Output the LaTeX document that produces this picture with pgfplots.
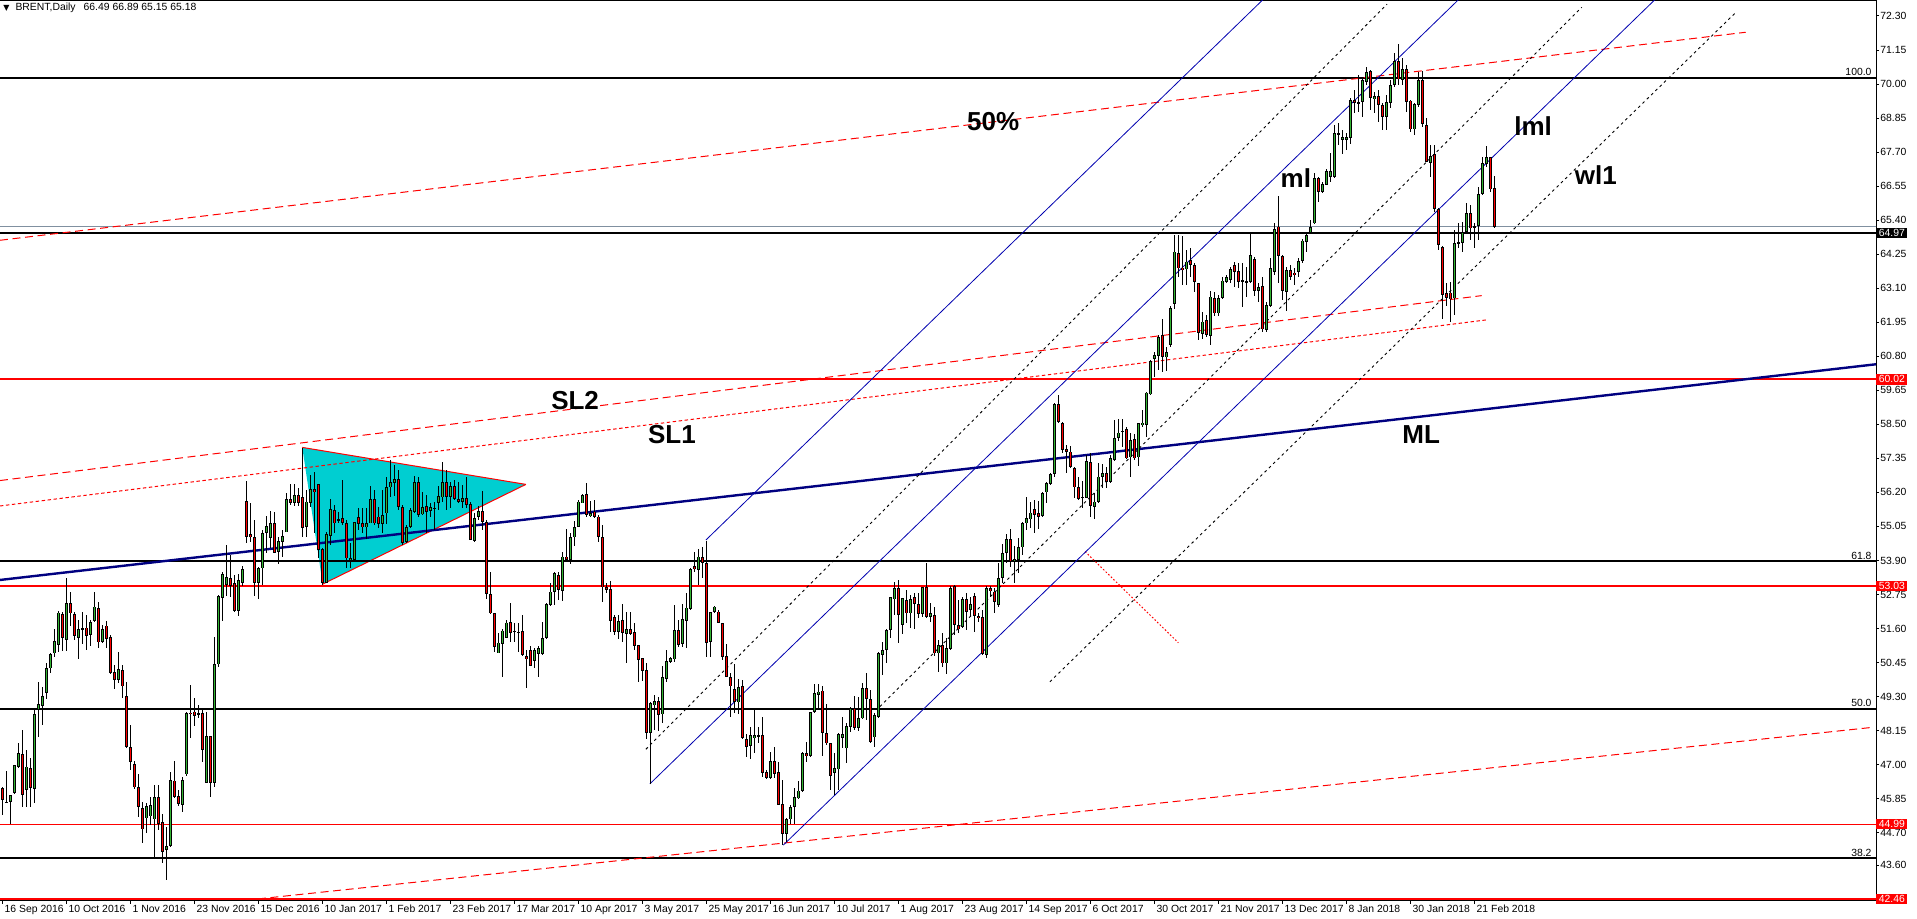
\documentclass[border=0pt]{standalone}
\usepackage{fontspec}
\setmainfont{Liberation Sans}
\newfontfamily\dejavu{DejaVu Sans}
\usepackage{pgfplots}
\usepackage{pgfplotstable}
\pgfplotsset{compat=1.18}
\definecolor{cgreen}{RGB}{50,180,50}
\definecolor{cred}{RGB}{255,0,0}
\definecolor{navyml}{RGB}{0,0,128}
\definecolor{pfblue}{RGB}{0,0,175}
\definecolor{turq}{RGB}{0,206,209}
\definecolor{bidgray}{RGB}{128,144,160}
\newcommand{\tickfont}{\fontsize{5.2}{6}\selectfont}
\newcommand{\bigfont}{\fontsize{13}{15}\selectfont\bfseries}

\pgfplotstableread{
x o h l c
0 46.20 46.25 45.30 45.80
1 45.72 46.78 45.69 45.72
2 45.75 45.97 44.98 45.97
3 46.05 47.00 46.00 46.99
4 46.93 47.74 46.88 47.38
5 47.35 48.17 45.58 45.98
6 46.14 47.49 45.58 46.93
7 46.88 47.21 45.58 46.20
8 46.17 48.85 45.69 48.70
9 48.85 49.80 47.95 49.04
10 48.98 49.63 48.34 49.32
11 49.43 50.42 49.21 50.25
12 50.25 50.76 50.09 50.73
13 50.76 51.57 50.65 51.18
14 51.06 52.20 50.80 52.14
15 52.09 52.17 50.84 51.27
16 51.21 53.32 50.85 52.47
17 52.45 52.85 51.70 52.11
18 52.08 52.17 51.21 51.35
19 51.27 51.89 50.56 51.57
20 51.60 52.17 51.08 51.60
21 51.63 52.06 50.87 51.35
22 51.38 51.89 51.02 51.81
23 51.85 52.85 51.81 52.34
24 52.28 52.51 50.93 51.13
25 51.16 51.72 51.10 51.58
26 51.70 51.85 50.93 51.26
27 51.30 51.38 50.06 50.11
28 50.12 50.37 49.56 49.86
29 49.86 50.80 49.75 50.22
30 50.20 50.37 49.24 49.64
31 49.32 49.78 47.55 47.61
32 47.58 48.34 46.82 47.08
33 47.02 47.13 46.18 46.23
34 46.23 46.67 45.24 45.56
35 45.52 45.72 44.34 44.81
36 45.18 45.69 44.68 45.60
37 45.25 45.92 44.96 45.63
38 45.15 46.31 43.80 45.90
39 45.90 46.31 44.79 44.99
40 45.07 45.32 43.66 44.06
41 44.12 44.90 43.10 44.25
42 44.25 46.76 44.21 46.48
43 46.46 47.13 45.86 45.92
44 45.94 46.14 45.61 45.67
45 45.64 46.59 45.41 46.48
46 46.67 48.79 46.62 48.73
47 48.76 49.69 47.89 48.70
48 48.79 49.26 48.31 48.65
49 48.72 49.00 48.56 48.73
50 48.73 48.85 47.08 47.49
51 46.37 48.79 46.37 47.97
52 47.97 47.97 45.90 46.37
53 46.37 51.32 46.26 50.39
54 50.39 52.73 50.31 52.70
55 52.64 53.52 51.87 53.44
56 53.07 54.42 52.70 53.33
57 53.30 54.08 52.68 53.05
58 53.13 53.41 52.15 52.20
59 52.20 53.43 52.03 53.24
60 53.15 53.72 53.04 53.60
61 55.91 56.59 54.50 54.70
62 54.79 55.83 54.54 54.68
63 54.68 55.27 52.70 53.15
64 53.15 53.69 52.60 53.63
65 53.63 54.93 53.07 54.82
66 54.82 55.40 54.16 55.07
67 54.65 55.57 54.33 55.16
68 55.16 55.53 54.16 54.16
69 54.20 54.70 53.78 54.56
70 54.54 54.93 54.01 54.73
71 54.85 56.19 54.85 55.97
72 55.97 56.50 55.77 55.85
73 55.85 56.50 55.74 56.11
74 56.11 56.34 55.74 55.85
75 56.03 57.70 54.68 54.99
76 55.02 56.28 54.68 55.89
77 55.85 56.79 55.72 56.30
78 56.30 56.90 54.82 56.22
79 56.47 56.50 53.97 54.25
80 54.28 54.31 53.07 53.13
81 53.15 54.87 53.13 54.78
82 54.74 55.98 54.42 55.63
83 55.60 55.77 54.84 55.15
84 55.30 55.55 55.15 55.25
85 55.33 56.62 55.10 55.18
86 55.15 55.27 53.63 53.97
87 53.92 54.48 53.63 53.99
88 53.92 55.21 53.86 55.19
89 55.36 55.66 54.93 55.13
90 55.15 55.66 54.84 55.02
91 55.02 55.66 54.62 55.15
92 55.15 56.42 55.15 55.97
93 55.97 56.28 55.10 55.15
94 55.38 55.72 54.99 55.13
95 55.13 56.28 54.82 55.44
96 55.49 56.71 55.13 56.37
97 56.37 57.30 56.05 56.56
98 56.52 57.13 56.08 56.64
99 56.64 56.96 55.60 55.70
100 55.70 55.77 54.42 54.50
101 54.54 55.10 54.48 55.04
102 55.04 55.66 54.99 55.60
103 55.55 56.75 55.49 56.54
104 56.54 56.71 55.38 55.44
105 55.46 56.22 55.44 55.70
106 55.74 56.11 54.82 55.55
107 55.58 55.83 55.38 55.70
108 55.66 55.89 54.93 55.66
109 55.85 56.40 55.60 56.08
110 56.03 57.24 55.89 56.54
111 56.54 56.96 55.60 56.06
112 56.06 56.56 55.66 56.42
113 56.42 56.62 55.94 55.97
114 55.98 56.56 55.83 55.89
115 55.89 56.45 55.66 56.00
116 56.00 56.73 55.66 55.77
117 55.80 55.89 54.59 54.59
118 54.57 55.49 54.54 55.32
119 55.36 55.74 55.27 55.58
120 55.58 56.25 54.93 55.21
121 55.21 55.27 52.59 52.77
122 52.77 53.52 52.09 52.11
123 52.11 52.11 50.82 50.99
124 50.76 51.44 50.76 51.12
125 51.08 51.57 49.97 51.53
126 51.27 51.89 51.27 51.80
127 51.81 52.45 51.16 51.44
128 51.50 51.80 51.16 51.50
129 51.48 51.77 50.82 51.48
130 51.52 52.06 50.67 50.71
131 50.67 50.87 49.58 50.56
132 50.87 51.01 50.35 50.35
133 50.50 50.93 50.25 50.87
134 50.73 51.01 49.95 50.93
135 50.73 51.83 50.71 51.27
136 51.27 52.47 51.23 52.42
137 52.40 53.15 52.37 52.85
138 52.85 53.52 52.40 53.46
139 53.41 53.52 52.56 52.90
140 52.88 54.20 52.54 54.03
141 54.03 54.95 53.86 53.92
142 53.92 54.82 53.78 54.70
143 54.68 55.25 54.39 55.04
144 55.04 55.94 55.02 55.89
145 55.83 56.14 55.83 56.11
146 56.14 56.53 55.38 55.44
147 55.40 55.92 55.36 55.49
148 55.55 55.94 55.32 55.38
149 55.38 55.44 54.53 54.70
150 54.70 55.10 52.51 52.99
151 53.01 53.13 52.79 52.90
152 52.92 53.22 51.49 51.87
153 51.98 52.06 51.38 51.49
154 51.49 52.06 51.25 51.85
155 51.89 52.43 51.16 51.46
156 51.41 52.17 50.45 51.57
157 51.57 52.17 51.38 51.41
158 51.47 51.80 50.87 51.02
159 51.04 51.04 49.80 50.54
160 50.59 50.59 49.84 50.18
161 50.20 50.45 47.86 48.06
162 48.06 49.10 46.35 49.07
163 49.00 49.35 48.17 49.15
164 49.15 49.30 48.15 48.68
165 48.70 50.33 48.40 49.95
166 49.90 50.89 49.80 50.50
167 50.48 50.65 50.45 50.59
168 50.56 52.40 50.48 51.55
169 51.55 51.89 50.99 51.04
170 51.07 52.43 50.99 51.91
171 51.86 52.79 50.93 52.31
172 52.25 53.63 52.23 53.60
173 53.71 54.20 53.52 53.60
174 53.58 54.28 53.07 54.03
175 54.00 54.37 53.30 53.82
176 53.80 54.57 50.65 51.12
177 51.16 52.17 50.65 52.15
178 52.17 52.36 52.11 52.34
179 52.17 52.23 51.78 51.80
180 51.77 51.77 50.54 50.65
181 50.67 51.07 49.95 49.97
182 49.97 50.08 48.60 49.64
183 49.55 50.39 48.73 49.13
184 49.10 49.91 48.71 49.63
185 49.66 49.86 47.85 47.89
186 47.87 48.04 47.25 47.61
187 47.64 48.28 47.18 48.00
188 47.89 48.87 47.40 47.99
189 47.99 48.27 47.72 47.96
190 47.99 48.60 46.59 46.73
191 46.74 46.82 46.52 46.54
192 46.56 47.44 46.52 47.12
193 47.12 47.60 46.54 46.68
194 46.74 47.10 45.64 45.64
195 45.67 46.48 44.28 44.66
196 44.66 45.18 44.40 45.15
197 45.15 45.64 44.98 45.56
198 45.58 46.20 44.98 45.89
199 45.86 46.45 45.83 46.12
200 46.12 47.44 46.09 47.38
201 47.38 47.78 47.10 47.29
202 47.29 48.77 47.27 48.77
203 48.77 49.73 48.73 49.41
204 49.35 49.73 48.85 49.47
205 49.50 49.64 47.30 48.06
206 48.06 49.05 47.66 47.72
207 47.72 47.74 46.14 46.63
208 46.71 47.38 45.97 46.88
209 46.84 48.08 46.14 48.02
210 47.89 48.60 47.55 48.02
211 47.55 48.42 47.04 48.30
212 48.28 48.96 48.11 48.90
213 48.90 49.32 48.17 48.23
214 48.23 49.30 48.15 48.56
215 48.56 49.75 48.53 49.58
216 49.58 50.09 48.51 49.21
217 49.21 49.52 47.72 47.78
218 47.92 48.76 47.61 48.68
219 48.60 50.82 48.56 50.78
220 50.71 51.15 50.03 50.87
221 50.87 51.60 50.42 51.55
222 51.55 52.68 51.27 52.65
223 52.58 53.18 52.06 52.96
224 52.96 53.24 51.12 52.06
225 51.72 52.62 51.42 52.62
226 52.56 52.90 51.77 52.11
227 52.11 52.73 51.61 52.60
228 52.65 52.79 51.57 52.43
229 52.43 52.79 51.94 52.09
230 52.09 52.99 51.98 52.99
231 52.99 53.80 51.94 51.98
232 51.99 52.45 51.83 52.13
233 52.06 52.34 50.67 50.76
234 50.76 51.21 50.14 51.04
235 51.04 51.44 50.31 50.42
236 50.42 51.27 50.08 50.93
237 50.90 53.04 50.87 52.96
238 53.04 53.07 51.38 51.72
239 51.72 52.56 51.44 51.57
240 51.66 52.68 51.61 52.59
241 52.59 52.79 51.55 52.17
242 52.23 52.68 52.00 52.43
243 52.70 52.81 51.49 52.02
244 52.03 52.11 51.83 51.94
245 51.98 52.23 50.71 50.74
246 50.71 53.04 50.59 52.96
247 52.96 53.04 52.68 52.87
248 52.85 52.96 52.11 52.51
249 52.40 53.80 52.34 53.30
250 53.30 54.46 53.13 54.16
251 54.16 54.80 53.80 54.61
252 54.61 54.95 53.67 53.86
253 53.86 54.39 53.15 53.94
254 53.92 54.65 53.49 54.34
255 54.34 55.20 54.08 55.15
256 55.15 56.05 54.93 55.32
257 55.29 55.89 54.99 55.52
258 55.63 55.94 54.84 55.44
259 55.49 55.92 54.95 55.38
260 55.40 56.23 55.38 56.19
261 56.20 56.54 55.83 56.51
262 56.48 56.84 56.45 56.81
263 56.82 59.23 56.71 59.19
264 59.19 59.49 58.53 58.57
265 58.53 58.59 57.54 57.63
266 57.67 57.80 56.84 57.58
267 57.58 57.77 57.01 57.05
268 57.01 57.05 56.00 56.37
269 56.37 56.73 55.94 55.97
270 56.04 56.60 55.66 56.03
271 56.02 57.47 56.02 57.26
272 57.22 57.52 55.36 55.74
273 55.70 56.17 55.29 55.89
274 55.89 57.18 55.83 56.73
275 56.73 57.16 56.34 56.84
276 56.84 57.07 56.34 56.56
277 56.56 57.47 56.53 57.35
278 57.29 58.65 57.27 58.03
279 58.03 58.67 57.92 58.22
280 58.25 58.67 57.75 58.29
281 58.33 58.40 57.32 57.35
282 57.38 58.22 56.71 57.97
283 57.99 58.17 57.30 57.35
284 57.38 58.56 57.09 58.53
285 58.48 58.99 58.42 58.56
286 58.48 59.60 58.08 59.57
287 59.51 60.67 59.49 60.64
288 60.70 60.95 60.11 60.84
289 60.81 61.52 60.34 61.46
290 61.52 62.05 60.28 60.79
291 60.76 61.12 60.31 60.95
292 61.18 62.50 61.13 62.42
293 62.57 64.90 62.39 64.34
294 64.28 64.90 63.49 63.77
295 63.80 64.86 63.21 63.72
296 63.74 64.39 63.21 64.00
297 64.05 64.45 63.49 63.88
298 63.88 63.96 62.98 63.30
299 63.27 63.27 61.35 61.58
300 61.55 62.31 61.37 61.97
301 62.03 62.20 61.44 61.52
302 61.49 63.02 61.18 62.82
303 62.76 62.98 62.16 62.25
304 62.25 62.87 62.16 62.76
305 62.76 63.49 62.73 63.36
306 63.32 63.55 63.29 63.47
307 63.38 63.81 63.27 63.74
308 63.88 64.00 63.13 63.66
309 63.69 63.94 63.10 63.32
310 63.35 63.94 62.48 63.34
311 63.32 63.83 62.82 63.33
312 63.32 64.95 63.27 64.22
313 64.08 64.17 62.84 63.01
314 63.01 63.27 62.65 63.15
315 63.18 63.49 61.63 61.71
316 61.69 62.65 61.63 62.53
317 62.50 64.11 62.48 63.77
318 63.66 65.32 63.55 65.09
319 65.18 66.22 63.27 64.19
320 64.19 64.22 62.70 63.02
321 62.98 63.83 62.34 63.72
322 63.72 63.89 63.38 63.49
323 63.63 63.77 63.21 63.55
324 63.66 64.11 63.49 64.02
325 64.02 64.75 63.94 64.71
326 64.67 65.01 64.34 64.90
327 64.98 65.41 64.96 65.16
328 65.29 66.98 65.27 66.81
329 66.81 66.87 66.03 66.36
330 66.36 66.70 66.31 66.62
331 66.59 67.12 66.59 67.06
332 66.85 67.68 66.70 67.07
333 66.85 68.61 66.81 68.33
334 68.33 68.67 67.94 68.28
335 68.11 68.45 67.64 68.22
336 68.11 68.33 67.77 68.22
337 68.17 69.52 67.96 69.46
338 69.46 69.80 69.01 69.37
339 69.35 70.31 69.07 69.40
340 69.40 70.25 68.88 70.14
341 70.08 70.59 69.97 70.40
342 70.44 70.48 69.12 69.52
343 69.48 69.74 69.01 69.60
344 69.60 69.80 68.73 69.29
345 69.29 69.35 68.45 68.88
346 68.88 69.63 68.45 69.40
347 69.37 70.14 69.18 69.97
348 69.97 71.04 69.91 70.78
349 70.78 71.35 69.97 70.16
350 70.14 70.87 69.97 70.50
351 70.50 70.64 69.07 69.40
352 69.44 69.46 68.39 68.47
353 68.47 69.35 68.28 69.33
354 69.29 70.42 69.24 70.14
355 70.14 70.45 68.56 68.64
356 68.62 68.84 67.38 67.38
357 67.34 67.94 66.87 67.57
358 67.64 67.94 65.69 65.77
359 65.77 65.80 64.39 64.56
360 64.50 64.53 62.05 62.87
361 62.93 63.26 62.51 62.76
362 62.95 63.32 61.97 62.72
363 62.76 65.07 62.19 64.62
364 64.62 65.32 64.45 64.67
365 64.64 65.35 64.34 65.01
366 65.01 65.99 64.98 65.63
367 65.63 65.91 64.73 65.12
368 65.15 65.32 64.45 65.20
369 65.20 66.53 64.73 66.28
370 66.28 67.55 66.25 67.34
371 67.29 67.91 67.21 67.52
372 67.52 67.55 66.36 66.44
373 66.49 66.89 65.15 65.18
}\candles

\begin{document}
\begin{tikzpicture}
\path[use as bounding box] (0,0) rectangle (958.5pt,459.5pt);
\begin{axis}[
  at={(0pt,9pt)}, anchor=south west,
  scale only axis, width=938pt, height=450pt,
  xmin=-0.675, xmax=468.325, ymin=42.391, ymax=72.807,
  clip mode=individual,
  axis line style={black, line width=0.5pt},
  xtick={0,16,...,368},
  xticklabels={16 Sep 2016,10 Oct 2016,1 Nov 2016,23 Nov 2016,15 Dec 2016,10 Jan 2017,1 Feb 2017,23 Feb 2017,17 Mar 2017,10 Apr 2017,3 May 2017,25 May 2017,16 Jun 2017,10 Jul 2017,1 Aug 2017,23 Aug 2017,14 Sep 2017,6 Oct 2017,30 Oct 2017,21 Nov 2017,13 Dec 2017,8 Jan 2018,30 Jan 2018,21 Feb 2018},
  ytick={43.60,44.70,45.85,47.00,48.15,49.30,50.45,51.60,52.75,53.90,55.05,56.20,57.35,58.50,59.65,60.80,61.95,63.10,64.25,65.40,66.55,67.70,68.85,70.00,71.15,72.30},
  yticklabels={43.60,44.70,45.85,47.00,48.15,49.30,50.45,51.60,52.75,53.90,55.05,56.20,57.35,58.50,59.65,60.80,61.95,63.10,64.25,65.40,66.55,67.70,68.85,70.00,71.15,72.30},
  xtick pos=left, ytick pos=right, yticklabel pos=right,
  tick align=outside, major tick length=1.5pt,
  tick style={black, line width=0.5pt},
  xticklabel style={anchor=north west, inner sep=0.5pt, font=\tickfont, xshift=0.3pt},
  yticklabel style={anchor=west, inner sep=0.5pt, font=\tickfont},
]
% triangle
\addplot[fill=turq, draw=none, forget plot] coordinates {(74.9,57.72) (80.0,53.10) (130.8,56.47)} -- cycle;
\addplot[cred, line width=0.5pt, forget plot] coordinates {(74.9,57.72) (130.8,56.47)};
\addplot[cred, line width=0.5pt, forget plot] coordinates {(80.0,53.10) (130.8,56.47)};
% horizontal levels
\addplot[black, line width=1pt] coordinates {(-1,70.22) (469,70.22)};
\addplot[bidgray, line width=0.5pt] coordinates {(-1,65.17) (469,65.17)};
\addplot[black, line width=1pt] coordinates {(-1,64.97) (469,64.97)};
\addplot[cred, line width=1pt] coordinates {(-1,60.02) (469,60.02)};
\addplot[black, line width=1pt] coordinates {(-1,53.89) (469,53.89)};
\addplot[cred, line width=1pt] coordinates {(-1,53.03) (469,53.03)};
\addplot[black, line width=1pt] coordinates {(-1,48.89) (469,48.89)};
\addplot[cred, line width=0.5pt] coordinates {(-1,44.99) (469,44.99)};
\addplot[black, line width=1pt] coordinates {(-1,43.85) (469,43.85)};
\addplot[cred, line width=1pt] coordinates {(-1,42.46) (469,42.46)};
% red channel lines
\addplot[cred, line width=0.5pt, dash pattern=on 4pt off 2.3pt] coordinates {(-0.675,64.72) (435.75,71.75)};
\addplot[cred, line width=0.5pt, dash pattern=on 4pt off 2.3pt] coordinates {(-0.675,56.60) (369.75,62.85)};
\addplot[cred, line width=0.5pt, dash pattern=on 1.7pt off 1.3pt] coordinates {(-0.675,55.74) (371.0,62.03)};
\addplot[cred, line width=0.5pt, dash pattern=on 4pt off 2.3pt] coordinates {(63.8,42.46) (466.8,48.25)};
\addplot[cred, line width=0.5pt, dash pattern=on 0.8pt off 1pt] coordinates {(270.6,54.20) (293.9,51.12)};
% median line
\addplot[navyml, line width=1.2pt] coordinates {(-0.675,53.24) (468.325,60.53)};
% pitchfork lines
\addplot[pfblue, line width=0.4pt] coordinates {(175.8,54.59) (320.0,73.5)};
\addplot[pfblue, line width=0.4pt] coordinates {(161.8,46.35) (368.9,73.5)};
\addplot[pfblue, line width=0.4pt] coordinates {(195.15,44.28) (418.0,73.5)};
\addplot[black, line width=0.45pt, dash pattern=on 1.35pt off 1.65pt] coordinates {(160.8,47.52) (346.1,72.70)};
\addplot[black, line width=0.45pt, dash pattern=on 1.35pt off 1.65pt] coordinates {(219.3,48.96) (394.75,72.59)};
\addplot[black, line width=0.45pt, dash pattern=on 1.35pt off 1.65pt] coordinates {(261.8,49.80) (433.5,72.45)};
% candles: wicks
\addplot[draw=none, mark=none, forget plot,
  error bars/.cd, y dir=both, y explicit, error mark=none,
  error bar style={draw=black, line width=0.5pt}]
  table[x=x, y expr={(\thisrow{h}+\thisrow{l})/2}, y error expr={(\thisrow{h}-\thisrow{l})/2}] {\candles};
% candles: body outline
\addplot[draw=none, mark=none, forget plot,
  error bars/.cd, y dir=both, y explicit, error mark=none,
  error bar style={draw=black, line width=1.6pt}]
  table[x=x, y expr={(\thisrow{o}+\thisrow{c})/2}, y error expr={max(abs(\thisrow{c}-\thisrow{o})/2,0.017)}] {\candles};
% candles: green fill
\addplot[draw=none, mark=none, forget plot,
  error bars/.cd, y dir=both, y explicit, error mark=none,
  error bar style={draw=cgreen, line width=0.7pt}]
  table[x=x, y expr={(\thisrow{o}+\thisrow{c})/2}, y error expr={(\thisrow{c}>\thisrow{o})*max(abs(\thisrow{c}-\thisrow{o})/2-0.027,0)}] {\candles};
% candles: red fill
\addplot[draw=none, mark=none, forget plot,
  error bars/.cd, y dir=both, y explicit, error mark=none,
  error bar style={draw=cred, line width=0.7pt}]
  table[x=x, y expr={(\thisrow{o}+\thisrow{c})/2}, y error expr={(\thisrow{o}>\thisrow{c})*max(abs(\thisrow{c}-\thisrow{o})/2-0.027,0)}] {\candles};
% text labels
\node[font=\bigfont] at (axis cs:247.6,68.72) {50\%};
\node[font=\bigfont] at (axis cs:323.3,66.83) {ml};
\node[font=\bigfont] at (axis cs:382.6,68.58) {lml};
\node[font=\bigfont] at (axis cs:398.3,66.93) {wl1};
\node[font=\bigfont] at (axis cs:143.1,59.29) {SL2};
\node[font=\bigfont] at (axis cs:167.3,58.17) {SL1};
\node[font=\bigfont] at (axis cs:354.6,58.14) {ML};
% fib labels
\node[font=\tickfont, anchor=south east, inner sep=0.6pt] at (axis cs:467.6,70.22) {100.0};
\node[font=\tickfont, anchor=south east, inner sep=0.6pt] at (axis cs:467.6,53.89) {61.8};
\node[font=\tickfont, anchor=south east, inner sep=0.6pt] at (axis cs:467.6,48.89) {50.0};
\node[font=\tickfont, anchor=south east, inner sep=0.6pt] at (axis cs:467.6,43.85) {38.2};
% price boxes
\node[font=\tickfont, fill=black, text=white, anchor=west, inner sep=0pt, minimum width=15.5pt, minimum height=5pt] at (axis cs:468.325,64.98) {64.97};
\node[font=\tickfont, fill=cred, text=white, anchor=west, inner sep=0pt, minimum width=15.5pt, minimum height=5.3pt] at (axis cs:468.325,60.02) {60.02};
\node[font=\tickfont, fill=cred, text=white, anchor=west, inner sep=0pt, minimum width=15.5pt, minimum height=5.3pt] at (axis cs:468.325,53.03) {53.03};
\node[font=\tickfont, fill=cred, text=white, anchor=west, inner sep=0pt, minimum width=15.5pt, minimum height=5.3pt] at (axis cs:468.325,44.99) {44.99};
\node[font=\tickfont, fill=cred, text=white, anchor=west, inner sep=0pt, minimum width=15.5pt, minimum height=5.3pt] at (axis cs:468.325,42.46) {42.46};
\end{axis}
\node[anchor=north west, inner sep=0pt, font=\tickfont] at (1.5pt,458pt) {{\dejavu\fontsize{4}{5}\selectfont ▼}\hspace{3pt}BRENT,Daily\hspace{4pt}66.49 66.89 65.15 65.18};
\end{tikzpicture}
\end{document}
